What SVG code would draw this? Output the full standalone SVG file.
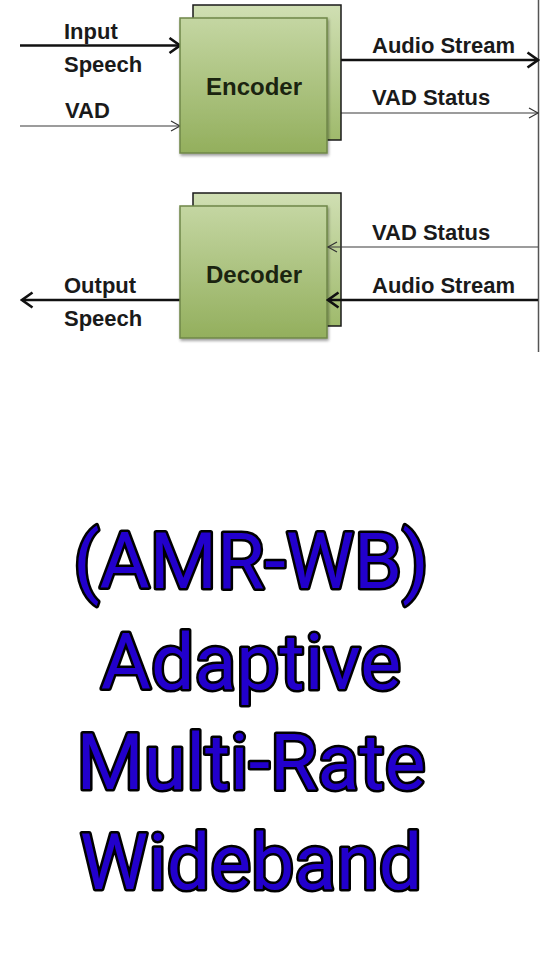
<svg xmlns="http://www.w3.org/2000/svg" width="540" height="960" viewBox="0 0 540 960">
  <defs>
    <linearGradient id="gFront" x1="0" y1="0" x2="0" y2="1">
      <stop offset="0" stop-color="#c4d6a2"/>
      <stop offset="1" stop-color="#93af5d"/>
    </linearGradient>
    <linearGradient id="gBack" x1="0" y1="0" x2="0" y2="1">
      <stop offset="0" stop-color="#d0dfb3"/>
      <stop offset="1" stop-color="#9fba6c"/>
    </linearGradient>
    <filter id="shadow" x="-10%" y="-10%" width="130%" height="130%">
      <feGaussianBlur in="SourceAlpha" stdDeviation="1.5"/>
      <feOffset dx="1" dy="2"/>
      <feComponentTransfer><feFuncA type="linear" slope="0.4"/></feComponentTransfer>
      <feMerge><feMergeNode/><feMergeNode in="SourceGraphic"/></feMerge>
    </filter>
    <marker id="arrThick" markerUnits="userSpaceOnUse" markerWidth="14" markerHeight="18" refX="12" refY="9" orient="auto">
      <path d="M1.5,1.5 L12,9 L1.5,16.5" fill="none" stroke="#111" stroke-width="2.6" stroke-linejoin="miter"/>
    </marker>
    <marker id="arrThin" markerUnits="userSpaceOnUse" markerWidth="12" markerHeight="12" refX="10" refY="6" orient="auto">
      <path d="M1,1 L10,6 L1,11" fill="none" stroke="#333" stroke-width="1.2"/>
    </marker>
  </defs>
  <style>
    .back { fill: url(#gBack); stroke: #1a1a1a; stroke-width: 1.5; }
    .front { fill: url(#gFront); stroke: #6f8748; stroke-width: 1.5; filter: url(#shadow); }
    .boxlabel { font-family: "Liberation Sans", Arial, sans-serif; font-weight: bold; font-size: 24px; fill: #1b2410; text-anchor: middle; }
    .lbl { font-family: "Liberation Sans", Arial, sans-serif; font-weight: bold; font-size: 22px; fill: #1a1a1a; }
    .thick { stroke: #111; stroke-width: 2.6; fill: none; }
    .thin { stroke: #3a3a3a; stroke-width: 1.2; fill: none; }
    .title { font-family: Roboto, "Liberation Sans", Arial, sans-serif; font-weight: normal; font-size: 77px; fill: #2200cc; stroke: #000; stroke-width: 5; stroke-linejoin: round; paint-order: stroke fill; text-anchor: middle; }
  </style>
  <rect width="540" height="960" fill="#ffffff"/>

  <g id="connectors">
    <line x1="538.5" y1="0" x2="538.5" y2="352" stroke="#555" stroke-width="1.5"/>
    <line class="thick" x1="20" y1="45.5" x2="180" y2="45.5" marker-end="url(#arrThick)"/>
    <line class="thin" x1="20" y1="126" x2="180" y2="126" marker-end="url(#arrThin)"/>
    <line class="thick" x1="327" y1="60" x2="538" y2="60" marker-end="url(#arrThick)"/>
    <line class="thin" x1="327" y1="113" x2="538" y2="113" marker-end="url(#arrThin)"/>
    <line class="thick" x1="180" y1="300" x2="22" y2="300" marker-end="url(#arrThick)"/>
  </g>

  <g id="encoder">
    <rect class="back" x="193" y="5" width="148" height="135"/>
    <rect class="front" x="180" y="18" width="147" height="135"/>
    <text class="boxlabel" x="254" y="95">Encoder</text>
  </g>

  <g id="decoder">
    <rect class="back" x="193" y="193" width="148" height="133"/>
    <rect class="front" x="180" y="206" width="147" height="132"/>
    <text class="boxlabel" x="254" y="283">Decoder</text>
  </g>

  <g id="connectors-in">
    <line class="thin" x1="538" y1="247" x2="328" y2="247" marker-end="url(#arrThin)"/>
    <line class="thick" x1="538" y1="300" x2="328" y2="300" marker-end="url(#arrThick)"/>
  </g>

  <g id="labels">
    <text class="lbl" x="64" y="39">Input</text>
    <text class="lbl" x="64" y="72">Speech</text>
    <text class="lbl" x="65" y="118">VAD</text>
    <text class="lbl" x="372" y="53">Audio Stream</text>
    <text class="lbl" x="372" y="105">VAD Status</text>
    <text class="lbl" x="372" y="240">VAD Status</text>
    <text class="lbl" x="372" y="293">Audio Stream</text>
    <text class="lbl" x="64" y="293">Output</text>
    <text class="lbl" x="64" y="326">Speech</text>
  </g>

  <g id="title">
    <text class="title" x="251" y="588">(AMR-WB)</text>
    <text class="title" x="251" y="689">Adaptive</text>
    <text class="title" x="251" y="789">Multi-Rate</text>
    <text class="title" x="251" y="889">Wideband</text>
  </g>
</svg>
